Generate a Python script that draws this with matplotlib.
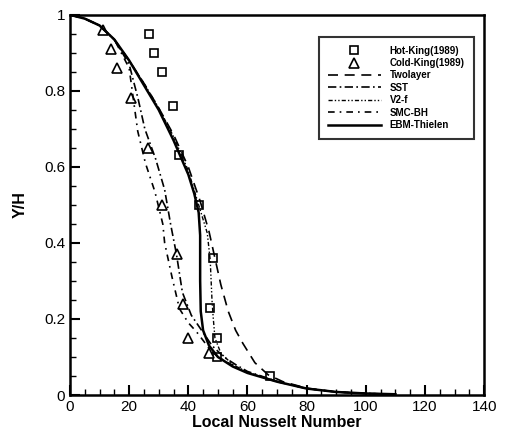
import matplotlib
matplotlib.use("Agg")
import matplotlib.pyplot as plt
from matplotlib.ticker import MultipleLocator, FormatStrFormatter

# Experimental data (King 1989)
hot_nu = [26.7, 28.3, 31.0, 34.8, 36.8, 43.5, 48.2, 47.2, 49.6, 49.6, 67.5]
hot_y = [0.95, 0.90, 0.85, 0.76, 0.63, 0.50, 0.36, 0.23, 0.15, 0.10, 0.05]
cold_nu = [11.0, 13.8, 15.9, 20.6, 26.3, 31.0, 36.3, 38.2, 40.0, 46.9]
cold_y = [0.96, 0.91, 0.86, 0.78, 0.65, 0.50, 0.37, 0.24, 0.15, 0.11]

# Model predictions
two_nu = [0, 5, 10, 15, 20, 25, 30, 35, 40, 44, 47, 49, 51, 53.5, 56, 58.5, 62.5, 67, 72, 80, 90, 100, 110]
two_y = [1.0, 0.99, 0.972, 0.935, 0.88, 0.82, 0.755, 0.685, 0.60, 0.51, 0.43, 0.36, 0.29, 0.22, 0.17, 0.135, 0.085, 0.053, 0.035, 0.018, 0.008, 0.004, 0.002]
sst_nu = [0, 5, 10, 15, 20, 23, 25.3, 29, 32, 34, 36, 38, 41, 44.5, 48, 52, 56, 60, 70, 80, 90, 100, 110]
sst_y = [1.0, 0.99, 0.972, 0.935, 0.87, 0.78, 0.70, 0.62, 0.54, 0.45, 0.37, 0.27, 0.21, 0.17, 0.13, 0.10, 0.08, 0.062, 0.036, 0.017, 0.008, 0.004, 0.002]
v2f_nu = [0, 5, 10, 15, 20, 25, 30, 35, 40, 43.5, 46.4, 47.4, 48.0, 48.4, 49, 51, 55, 60, 70, 80, 90, 100, 110]
v2f_y = [1.0, 0.99, 0.972, 0.935, 0.88, 0.82, 0.755, 0.68, 0.59, 0.50, 0.426, 0.355, 0.25, 0.205, 0.15, 0.11, 0.08, 0.06, 0.035, 0.017, 0.008, 0.004, 0.002]
smc_nu = [0, 5, 10, 15, 20, 22.9, 25.5, 28.7, 31.4, 32.0, 34.5, 37.0, 40, 42.8, 48.0, 52, 56, 60, 70, 80, 90, 100, 110]
smc_y = [1.0, 0.99, 0.972, 0.935, 0.86, 0.694, 0.61, 0.535, 0.449, 0.40, 0.31, 0.227, 0.19, 0.166, 0.113, 0.09, 0.075, 0.06, 0.035, 0.017, 0.008, 0.004, 0.002]
ebm_nu = [0, 5, 10, 15, 20, 25, 30, 35, 40, 42, 43.5, 44.0, 44.0, 44.2, 45, 47, 50, 55, 60, 70, 80, 90, 100, 110]
ebm_y = [1.0, 0.99, 0.972, 0.935, 0.88, 0.815, 0.75, 0.67, 0.58, 0.53, 0.48, 0.42, 0.30, 0.22, 0.17, 0.13, 0.10, 0.075, 0.058, 0.035, 0.017, 0.008, 0.004, 0.002]

font_tick = ["Liberation Sans Narrow", "Liberation Sans", "DejaVu Sans"]

fig = plt.figure(figsize=(5.07, 4.36), dpi=100)
ax = fig.add_axes([0.138, 0.094, 0.817, 0.872])

ax.plot(hot_nu, hot_y, ls="none", marker="s", mfc="white", mec="k", mew=1.2, ms=6, label="Hot-King(1989)")
ax.plot(cold_nu, cold_y, ls="none", marker="^", mfc="white", mec="k", mew=1.2, ms=6.5, label="Cold-King(1989)")
ax.plot(two_nu, two_y, color="k", lw=1.2, ls=(0, (6, 4)), label="Twolayer")
ax.plot(sst_nu, sst_y, color="k", lw=1.2, ls=(0, (5, 2, 1, 2)), label="SST")
ax.plot(v2f_nu, v2f_y, color="k", lw=1.0, ls=(0, (3, 1.5, 1, 1.5, 1, 1.5)), label="V2-f")
ax.plot(smc_nu, smc_y, color="k", lw=1.2, ls=(0, (4, 3, 1, 3)), label="SMC-BH")
ax.plot(ebm_nu, ebm_y, color="k", lw=1.8, ls="-", label="EBM-Thielen")

ax.set_xlim(0, 140)
ax.set_ylim(0, 1)
ax.xaxis.set_major_locator(MultipleLocator(20))
ax.xaxis.set_minor_locator(MultipleLocator(5))
ax.yaxis.set_major_locator(MultipleLocator(0.2))
ax.yaxis.set_minor_locator(MultipleLocator(0.05))
ax.yaxis.set_major_formatter(FormatStrFormatter("%g"))
ax.tick_params(which="both", direction="in", top=False, right=False)
ax.tick_params(which="major", length=7, width=1.5)
ax.tick_params(which="minor", length=4, width=1.0)
for s in ax.spines.values():
    s.set_linewidth(1.8)
for lab in ax.get_xticklabels() + ax.get_yticklabels():
    lab.set_family(font_tick)
    lab.set_fontsize(11)

ax.set_xlabel("Local Nusselt Number", fontsize=11.5, fontweight="bold", family=["Liberation Sans", "DejaVu Sans"], labelpad=1)
ax.set_ylabel("Y/H", fontsize=11.5, fontweight="bold", family=["Liberation Sans", "DejaVu Sans"], labelpad=12)

leg = ax.legend(loc="upper right", bbox_to_anchor=(0.986, 0.955), frameon=True,
                fancybox=False, edgecolor="k", handlelength=5.5, handletextpad=0.9,
                labelspacing=0.25, borderpad=0.9,
                prop={"weight": "bold", "size": 7, "family": ["Liberation Sans Narrow", "Liberation Sans", "DejaVu Sans"]})
leg.get_frame().set_linewidth(1.5)

fig.savefig("out.png", dpi=100)
